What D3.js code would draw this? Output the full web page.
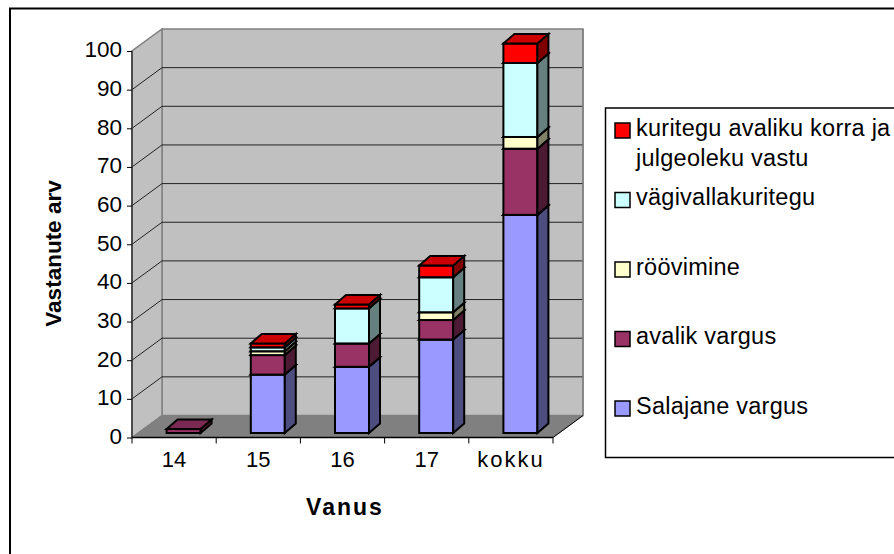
<!DOCTYPE html>
<html><head><meta charset="utf-8">
<script src="https://cdn.jsdelivr.net/npm/d3@7"></script>
<style>html,body{margin:0;padding:0;background:#fff}svg{display:block}text{font-family:"Liberation Sans",Arial,sans-serif;fill:#000}</style>
</head><body><svg id="c" width="894" height="554"></svg>
<script>
const ages=["14","15","16","17","kokku"];
const yTicks=[0,10,20,30,40,50,60,70,80,90,100];
const salajane=[0,15,17,24,56];
const avalik=[1,5,6,5,17];
const roovimine=[0,1,0,2,3];
const vagivald=[0,1,9,9,19];
const korra=[0,1,1,3,5];
const seriesNames=["Salajane vargus","avalik vargus","röövimine","vägivallakuritegu","kuritegu avaliku korra ja julgeoleku vastu"];
const seriesValues=[salajane,avalik,roovimine,vagivald,korra];
const colors=["#9999ff","#993366","#ffffcc","#ccffff","#ff0000"];
const sideColors=["#4d4d80","#4d1a33","#808066","#668080","#800000"];
const topColors=["#7a7acc","#7a2952","#ccccA3","#a3cccc","#cc0000"];

const svg=d3.select("#c");
const x0=132,x1=553,yB=437.5,yT=51,dx=30,dy=-22,bw=34,bdx=11,bdy=-9.5;
const yAxisScale=d3.scaleLinear().domain([0,100]).range([yB,yT]);
const yBar=d3.scaleLinear().domain([0,100]).range([433,43.5]);
const xAxisScale=d3.scaleBand().domain(ages).range([x0,x1]);
const xBar=d3.scaleBand().domain(ages).range([x0+9.5,x1+9.5]);

// frame
svg.append("path").attr("d","M10,554V8.5H894").attr("fill","none").attr("stroke","#000").attr("stroke-width",2);
// walls
const poly=(pts,fill,stroke,sw)=>svg.append("polygon").attr("points",pts.map(p=>p.join(",")).join(" ")).attr("fill",fill).attr("stroke",stroke||"none").attr("stroke-width",sw||1);
poly([[x0+dx,yB+dy],[x1+dx,yB+dy],[x1+dx,yT+dy],[x0+dx,yT+dy]],"#c0c0c0","#808080",1.5);
poly([[x0,yB],[x0+dx,yB+dy],[x0+dx,yT+dy],[x0,yT]],"#c0c0c0","#808080",1.5);
poly([[x0,yB],[x1,yB],[x1+dx,yB+dy],[x0+dx,yB+dy]],"#808080","#808080",1);
// grid
yTicks.filter(t=>t>0&&t<100).forEach(t=>{
  const y=yAxisScale(t);
  svg.append("path").attr("d",`M${x0},${y}L${x0+dx},${y+dy}H${x1+dx}`).attr("fill","none").attr("stroke","#222").attr("stroke-width",1);
});
svg.append("path").attr("d",`M${x0},${yB}L${x0+dx},${yB+dy}`).attr("stroke","#808080").attr("stroke-width",1);
svg.append("path").attr("d",`M${x1+dx},${yB+dy}V${yT+dy}`).attr("fill","none").attr("stroke","#808080").attr("stroke-width",1.5);
svg.append("path").attr("d",`M${x1},${yB}L${x1+dx},${yB+dy}`).attr("stroke","#000").attr("stroke-width",1);

// bars
const n=ages.length;
ages.forEach((a,i)=>{
  let acc=0;
  const bx=xBar(a)+xBar.bandwidth()/2-bw/2;
  seriesValues.forEach((vals,s)=>{
    const v=vals[i]; if(!v) return;
    const yb=yBar(acc), yt=yBar(acc+v); acc+=v;
    const g=svg.append("g").attr("stroke","#000").attr("stroke-width",2).attr("stroke-linejoin","miter");
    g.append("rect").attr("x",bx).attr("y",yt).attr("width",bw).attr("height",yb-yt).attr("fill",colors[s]);
    g.append("polygon").attr("points",[[bx+bw,yb],[bx+bw+bdx,yb+bdy],[bx+bw+bdx,yt+bdy],[bx+bw,yt]].join(" ")).attr("fill",sideColors[s]);
    g.append("polygon").attr("points",[[bx,yt],[bx+bdx,yt+bdy],[bx+bw+bdx,yt+bdy],[bx+bw,yt]].join(" ")).attr("fill",topColors[s]);
  });
});

// axes
const yAx=svg.append("g").attr("transform",`translate(${x0},0)`).call(d3.axisLeft(yAxisScale).tickValues(yTicks).tickSize(5).tickPadding(5).tickFormat(d3.format("d")));
yAx.selectAll("path,line").attr("stroke","#000").attr("stroke-width",1);
yAx.select("path").attr("d",`M0,${yB}V${yT}`).attr("stroke","#333").attr("stroke-width",1.5);
yAx.selectAll("text").attr("font-size",22.5).attr("font-family","Liberation Sans").attr("dy","0.26em");
const xAx=svg.append("g").attr("transform",`translate(0,${yB})`).call(d3.axisBottom(xAxisScale).tickSize(0).tickPadding(14));
xAx.select("path").attr("d",`M${x0},0H${x1}`).attr("stroke","#000").attr("stroke-width",1.5);
xAx.selectAll("text").attr("font-size",22).attr("font-family","Liberation Sans").attr("dy","0.71em")
   .attr("letter-spacing",d=>d==="kokku"?2:0);
d3.range(n+1).forEach(i=>{const x=x0+i*xAxisScale.step();svg.append("line").attr("x1",x).attr("x2",x).attr("y1",yB).attr("y2",yB+6).attr("stroke","#000");});

// titles
svg.append("text").attr("transform","translate(60.5,253.5) rotate(-90)").attr("text-anchor","middle").attr("font-size",22.5).attr("font-weight","bold").text("Vastanute arv");
svg.append("text").attr("x",345).attr("y",515).attr("text-anchor","middle").attr("font-size",23).attr("letter-spacing",2).attr("font-weight","bold").text("Vanus");

// legend
svg.append("path").attr("d","M894,108H605.5V457.5H894").attr("fill","#fff").attr("stroke","#000").attr("stroke-width",1.5);
const legend=[
 {s:4,y:130,lines:["kuritegu avaliku korra ja","julgeoleku vastu"]},
 {s:3,y:199.5,lines:["vägivallakuritegu"]},
 {s:2,y:269,lines:["röövimine"]},
 {s:1,y:338.5,lines:["avalik vargus"]},
 {s:0,y:408,lines:["Salajane vargus"]}];
legend.forEach(l=>{
  svg.append("rect").attr("x",615).attr("y",l.y-7).attr("width",15).attr("height",15).attr("fill",colors[l.s]).attr("stroke","#000").attr("stroke-width",1.5);
  l.lines.forEach((t,k)=>svg.append("text").attr("x",636).attr("y",l.y+5.5+k*30).attr("font-size",23.5).attr("letter-spacing",0.25).text(t));
});
</script></body></html>
